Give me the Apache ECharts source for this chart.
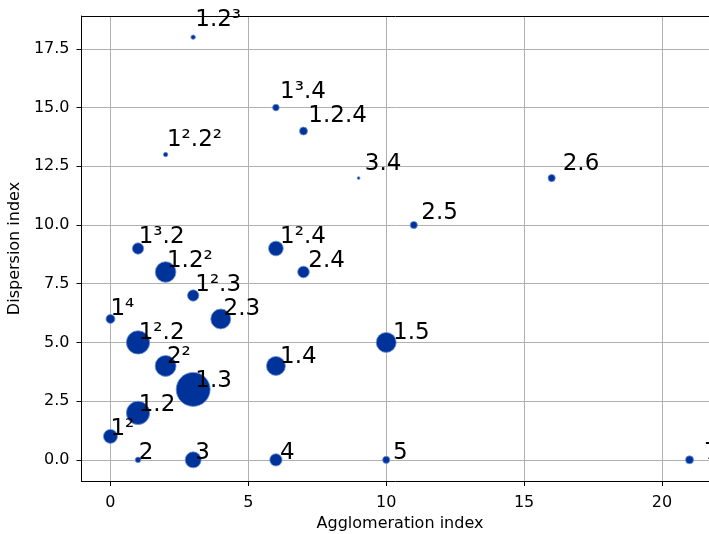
<!DOCTYPE html>
<html>
<head>
<meta charset="utf-8">
<script src="https://cdn.jsdelivr.net/npm/echarts@6/dist/echarts.min.js"></script>
<style>
  html, body { margin: 0; padding: 0; background: #fff; }
  #chart { width: 709px; height: 534px; }
</style>
</head>
<body>
<div id="chart"></div>
<script>
// Partition types with their agglomeration / dispersion indices and frequency
const labels = ['1.2³', '1³.4', '1.2.4', '1².2²', '3.4', '2.6', '2.5', '1³.2', '1².4', '1.2²',
                '2.4', '1².3', '1⁴', '2.3', '1².2', '1.5', '2²', '1.4', '1.3', '1.2',
                '1²', '2', '3', '4', '5', '7'];
const agglomeration = [3, 6, 7, 2, 9, 16, 11, 1, 6, 2,
                       7, 3, 0, 4, 1, 10, 2, 6, 3, 1,
                       0, 1, 3, 6, 10, 21];
const dispersion = [18, 15, 14, 13, 12, 12, 10, 9, 9, 8,
                    8, 7, 6, 6, 5, 5, 4, 4, 3, 2,
                    1, 0, 0, 0, 0, 0];
const frequency = [5, 11, 16, 5, 2, 13, 13, 32, 54, 107,
                   34, 32, 20, 100, 136, 100, 110, 90, 289, 136,
                   49, 8, 64, 38, 13, 16];

const xTicks = [0, 5, 10, 15, 20];
const yTicks = [0, 2.5, 5, 7.5, 10, 12.5, 15, 17.5];

// annotations sit just beyond each point, scaled away from the origin
const LABEL_SCALE = 1.025;

const points = labels.map((name, i) => ({
  name: name,
  value: [agglomeration[i], dispersion[i], frequency[i]]
}));
const annotations = labels.map((name, i) => ({
  name: name,
  value: [agglomeration[i] * LABEL_SCALE, dispersion[i] * LABEL_SCALE]
}));

const font = 'DejaVu Sans';
const chart = echarts.init(document.getElementById('chart'), null, { renderer: 'canvas' });

const spine = { show: true, onZero: false, lineStyle: { color: '#000', width: 1 } };
const axisCommon = {
  type: 'value',
  axisLine: spine,
  axisTick: { show: true, length: 5, inside: false, lineStyle: { color: '#000', width: 1 } },
  splitLine: { show: true, lineStyle: { color: '#b0b0b0', width: 1 } },
  nameTextStyle: { color: '#000', fontFamily: font, fontSize: 16 },
  axisLabel: { color: '#000', fontFamily: font, fontSize: 16 }
};

chart.setOption({
  animation: false,
  backgroundColor: '#fff',
  grid: {
    left: 81.5, top: 16, width: 637, height: 465,
    outerBoundsMode: 'none', containLabel: false, show: false
  },
  xAxis: [
    Object.assign({}, axisCommon, {
      min: -1.05, max: 22.05,
      position: 'bottom',
      name: 'Agglomeration index',
      nameLocation: 'middle', nameGap: 34,
      axisTick: Object.assign({}, axisCommon.axisTick, { customValues: xTicks }),
      axisLabel: Object.assign({}, axisCommon.axisLabel, { customValues: xTicks, margin: 14, formatter: v => String(v) })
    }),
    {
      type: 'value', min: -1.05, max: 22.05, position: 'top',
      axisLine: spine, axisTick: { show: false }, axisLabel: { show: false }, splitLine: { show: false }
    }
  ],
  yAxis: Object.assign({}, axisCommon, {
    min: -0.9, max: 18.9,
    name: 'Dispersion index',
    nameLocation: 'middle', nameGap: 49,
    axisTick: Object.assign({}, axisCommon.axisTick, { customValues: yTicks }),
    axisLabel: Object.assign({}, axisCommon.axisLabel, { customValues: yTicks, margin: 12, formatter: v => v.toFixed(1) })
  }),
  series: [
    {
      type: 'scatter',
      xAxisIndex: 0,
      data: points,
      symbol: 'circle',
      symbolSize: d => 2 * Math.sqrt(d[2]),
      itemStyle: { color: '#003399', borderColor: '#6f93d8', borderWidth: 0.8, opacity: 1 },
      emphasis: { disabled: true },
      z: 2
    },
    {
      type: 'scatter',
      xAxisIndex: 0,
      data: annotations,
      symbolSize: 1,
      silent: true,
      itemStyle: { opacity: 0 },
      label: {
        show: true,
        position: [0.5, 5.5],
        align: 'left',
        verticalAlign: 'bottom',
        formatter: p => p.name,
        color: '#000',
        opacity: 1,
        fontFamily: font,
        fontSize: 23,
        lineHeight: 23
      },
      labelLayout: { hideOverlap: false },
      emphasis: { disabled: true },
      z: 3
    }
  ]
});
</script>
</body>
</html>
